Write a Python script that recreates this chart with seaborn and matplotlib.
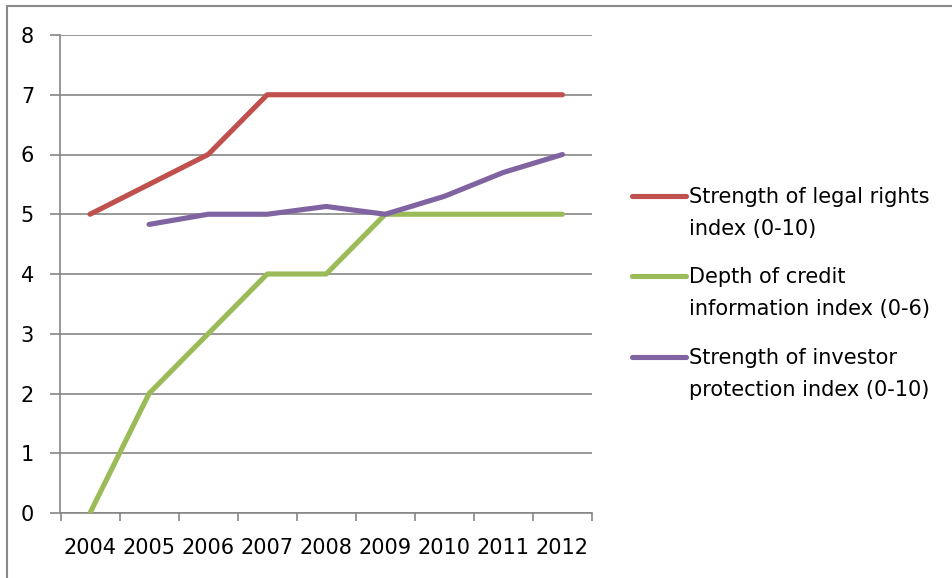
import numpy as np
import pandas as pd
import matplotlib
matplotlib.use("Agg")
import matplotlib.pyplot as plt
from matplotlib.lines import Line2D
import seaborn as sns

years = ["2004", "2005", "2006", "2007", "2008", "2009", "2010", "2011", "2012"]
legal_rights = [5, 5.5, 6, 7, 7, 7, 7, 7, 7]
credit_info = [0, 2, 3, 4, 4, 5, 5, 5, 5]
investor_protection = [np.nan, 4.83, 5, 5, 5.13, 5, 5.3, 5.7, 6]
series_names = ["Strength of legal rights\nindex (0-10)",
                "Depth of credit\ninformation index (0-6)",
                "Strength of investor\nprotection index (0-10)"]
colors = ["#C0504D", "#9BBB59", "#8064A2"]
yticks = [0, 1, 2, 3, 4, 5, 6, 7, 8]

sns.set_theme(style="white")
plt.rcParams['font.family'] = ['DejaVu Sans']

rows = []
for name, vals in zip(series_names, [legal_rights, credit_info, investor_protection]):
    for i, v in enumerate(vals):
        rows.append({"idx": i, "value": v, "series": name})
df = pd.DataFrame(rows).dropna()

fig = plt.figure(figsize=(9.53, 5.78), dpi=100)
ax = fig.add_axes([60.5 / 953, 1 - 513 / 578, (592 - 60.5) / 953, (513 - 35) / 578])

grid_c = "#868686"
for yv in yticks:
    ax.axhline(yv, color=grid_c, lw=1.2, zorder=1)

sns.lineplot(data=df, x="idx", y="value", hue="series", hue_order=series_names,
             palette=colors, linewidth=3.7, legend=False, ax=ax, zorder=3,
             solid_capstyle="round")

ax.set_xlim(-0.5, len(years) - 0.5)
ax.set_ylim(0, 8)
ax.set_xlabel("")
ax.set_ylabel("")
for s in ["top", "right"]:
    ax.spines[s].set_visible(False)
ax.spines["left"].set_color(grid_c)
ax.spines["bottom"].set_color(grid_c)
ax.spines["left"].set_linewidth(1.2)
ax.spines["bottom"].set_linewidth(1.2)

fs = 15
ax.set_xticks(np.arange(-0.5, len(years), 1.0))
ax.set_xticklabels([])
ax.set_xticks(np.arange(len(years)), minor=True)
ax.set_xticklabels(years, minor=True, fontsize=fs, color="black")
ax.tick_params(axis="x", which="major", direction="out", length=6, width=1.2, color=grid_c, bottom=True)
ax.tick_params(axis="x", which="minor", length=0, pad=18)
ax.set_yticks(yticks)
ax.set_yticklabels([str(t) for t in yticks], fontsize=fs, color="black")
ax.tick_params(axis="y", direction="out", length=7, width=1.2, color=grid_c, left=True, pad=12)

# legend
legend_y = [196, 276, 357]
for name, c, yy in zip(series_names, colors, legend_y):
    fy = 1 - yy / 578
    fig.add_artist(Line2D([632 / 953, 686 / 953], [fy, fy], color=c, lw=3.7,
                          solid_capstyle="round", transform=fig.transFigure))
    fig.text(689 / 953, 1 - (yy - 9) / 578, name, fontsize=fs, va="top", ha="left",
             linespacing=1.72, color="black")

# outer frame
fig.add_artist(Line2D([7 / 953, 7 / 953], [0, 1 - 6 / 578], color="#8a8a8a", lw=1.5,
                      transform=fig.transFigure))
fig.add_artist(Line2D([7 / 953, 1], [1 - 6 / 578, 1 - 6 / 578], color="#8a8a8a", lw=1.5,
                      transform=fig.transFigure))

fig.savefig("out.png", dpi=100)
